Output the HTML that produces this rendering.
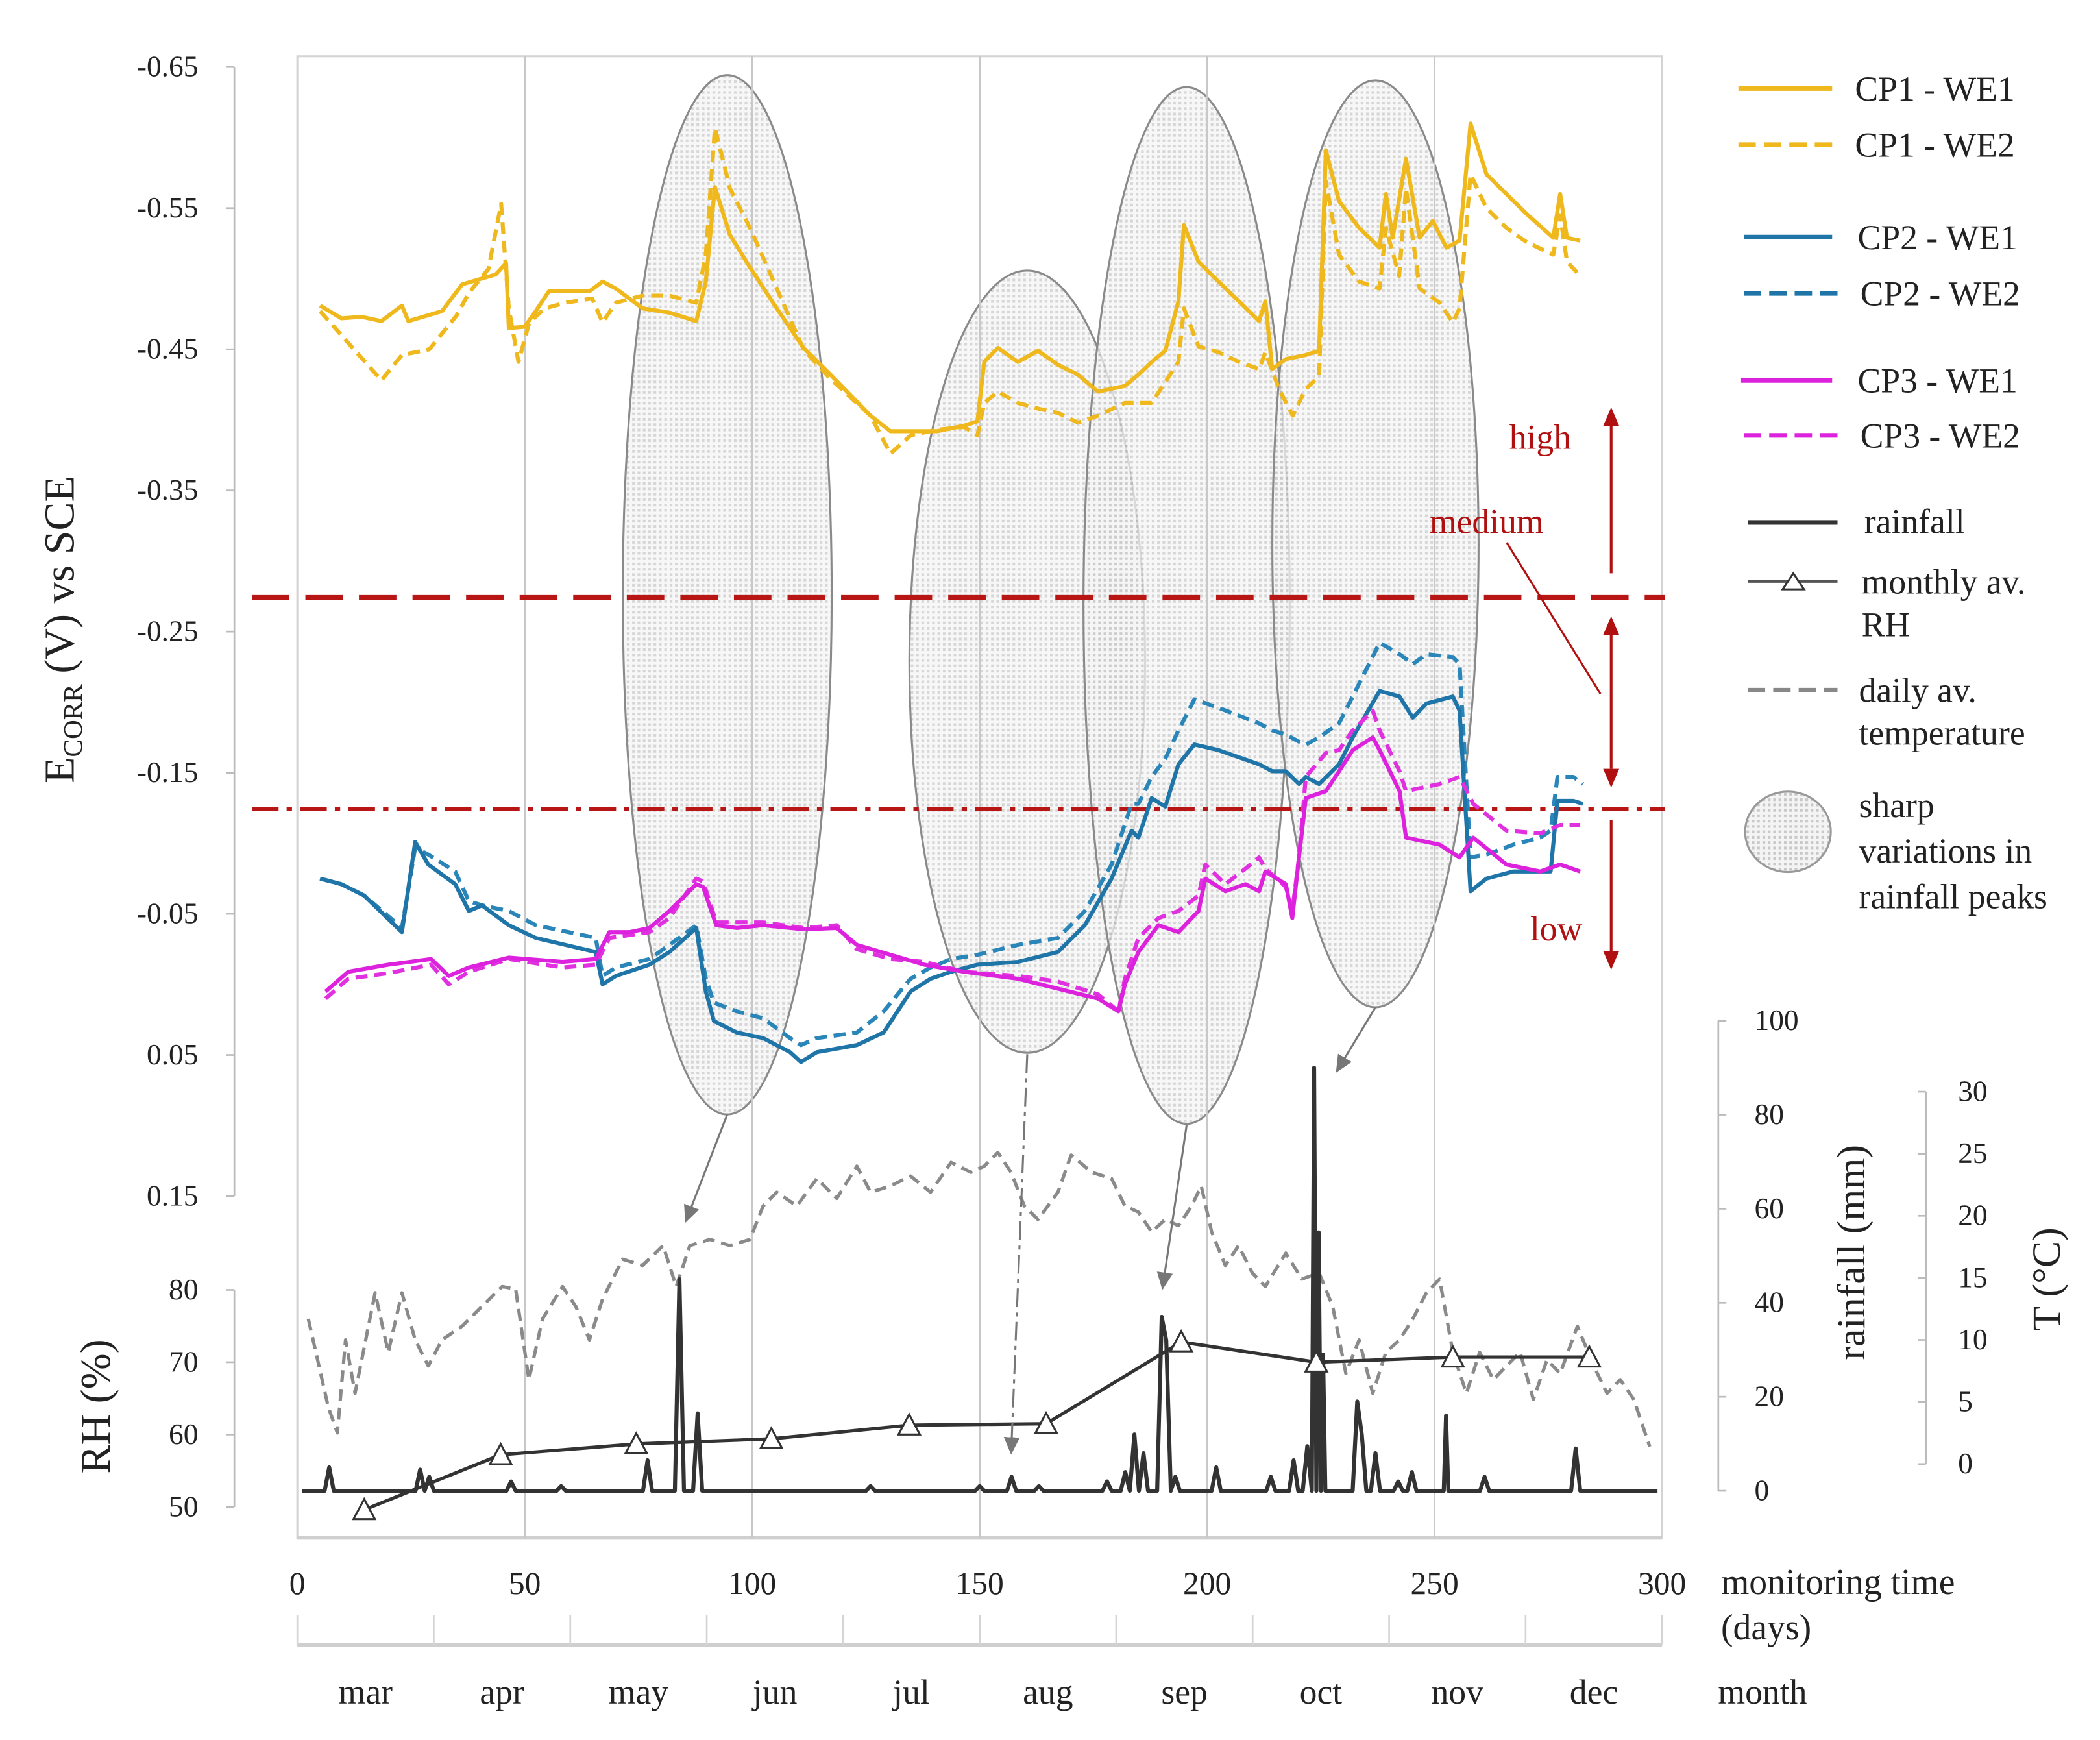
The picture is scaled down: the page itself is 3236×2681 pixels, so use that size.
<!DOCTYPE html>
<html><head><meta charset="utf-8">
<style>
html,body{margin:0;padding:0;background:#fff;}
svg{display:block;font-family:"Liberation Serif",serif;}
</style></head>
<body>
<svg id="chart" width="3236" height="2681" viewBox="0 0 1568 1299" xmlns="http://www.w3.org/2000/svg">
<defs>
<pattern id="dots" width="4" height="4" patternUnits="userSpaceOnUse">
<rect width="4" height="4" fill="#f4f4f4"/>
<rect x="0" y="0" width="2" height="2" fill="#c8c8c8"/>
</pattern>
<marker id="ahRed" markerWidth="8" markerHeight="8" refX="4" refY="4" orient="auto" markerUnits="userSpaceOnUse"><path d="M0,0 L8,4 L0,8 z" fill="#b01010"/></marker>
<marker id="ahGray" markerWidth="14" markerHeight="14" refX="12" refY="7" orient="auto" markerUnits="userSpaceOnUse"><path d="M0,1 L13,7 L0,13 z" fill="#777"/></marker>
</defs>
<g id="frame">
<rect x="222" y="42" width="1019" height="1106" fill="none" stroke="#d4d4d4" stroke-width="1.5"/>
<line x1="222" y1="1148" x2="1241" y2="1148" stroke="#cfcfcf" stroke-width="3"/>
</g>
<g id="ellipses" fill-opacity="0.75">
<ellipse cx="543" cy="444" rx="78" ry="388" fill="url(#dots)" stroke="#8a8a8a" stroke-width="1.5"/>
<ellipse cx="767" cy="494" rx="88" ry="292" fill="url(#dots)" stroke="#8a8a8a" stroke-width="1.5"/>
<ellipse cx="886" cy="452" rx="77" ry="387" fill="url(#dots)" stroke="#8a8a8a" stroke-width="1.5"/>
<ellipse cx="1027" cy="406" rx="77" ry="346" fill="url(#dots)" stroke="#8a8a8a" stroke-width="1.5"/>
</g>
<g id="grid"></g>
<g id="thresholds">
<line x1="188" y1="446" x2="1243" y2="446" stroke="#b81515" stroke-width="3.5" stroke-dasharray="28,12"/>
<line x1="188" y1="604" x2="1243" y2="604" stroke="#b81515" stroke-width="3" stroke-dasharray="20,6,4,6"/>
<line x1="1203" y1="318" x2="1203" y2="428" stroke="#b01010" stroke-width="2"/>
<path d="M1197,318 L1203,304 L1209,318 z" fill="#b01010"/>
<line x1="1203" y1="474" x2="1203" y2="574" stroke="#b01010" stroke-width="2"/>
<path d="M1197,474 L1203,460 L1209,474 z M1197,574 L1203,588 L1209,574 z" fill="#b01010"/>
<line x1="1203" y1="612" x2="1203" y2="710" stroke="#b01010" stroke-width="2"/>
<path d="M1197,710 L1203,724 L1209,710 z" fill="#b01010"/>
<line x1="1125" y1="405" x2="1195" y2="518" stroke="#b01010" stroke-width="1.5"/>
<text x="1150" y="335" font-size="26" fill="#b01010" text-anchor="middle">high</text>
<text x="1110" y="398" font-size="26" fill="#b01010" text-anchor="middle">medium</text>
<text x="1162" y="702" font-size="26" fill="#b01010" text-anchor="middle">low</text>
</g>
<g id="series"></g>
<g id="arrows">
<line x1="543" y1="832" x2="512" y2="912" stroke="#777" stroke-width="1.5" marker-end="url(#ahGray)"/>
<line x1="767" y1="787" x2="755" y2="1085" stroke="#777" stroke-width="1.5" stroke-dasharray="14,4,3,4" marker-end="url(#ahGray)"/>
<line x1="886" y1="840" x2="868" y2="962" stroke="#777" stroke-width="1.5" marker-end="url(#ahGray)"/>
<line x1="1027" y1="752" x2="998" y2="800" stroke="#777" stroke-width="1.5" marker-end="url(#ahGray)"/>
</g>
<g id="axes" font-size="22" fill="#222"></g>
<g id="axis-titles" fill="#222">
<text transform="translate(55,470) rotate(-90)" font-size="32" text-anchor="middle">E<tspan font-size="20" dy="6">CORR</tspan><tspan dy="-6"> (V) vs SCE</tspan></text>
<text transform="translate(82,1050) rotate(-90)" font-size="32" text-anchor="middle">RH (%)</text>
<text transform="translate(1392,935) rotate(-90)" font-size="30" text-anchor="middle">rainfall (mm)</text>
<text transform="translate(1538,955) rotate(-90)" font-size="30" text-anchor="middle">T (°C)</text>
<text x="1285" y="1190" font-size="27">monitoring time</text>
<text x="1285" y="1224" font-size="27">(days)</text>
<text x="1316" y="1272" font-size="26" text-anchor="middle">month</text>
</g>
<g id="legend" font-size="26" fill="#222">
<g><line x1="1298" y1="66" x2="1368" y2="66" stroke="#efb81c" stroke-width="3.5"/><text x="1385" y="75">CP1 - WE1</text></g>
<g><line x1="1298" y1="108" x2="1368" y2="108" stroke="#efb81c" stroke-width="3.5" stroke-dasharray="13,6"/><text x="1385" y="117">CP1 - WE2</text></g>
<g><line x1="1302" y1="177" x2="1368" y2="177" stroke="#1f74a8" stroke-width="3.5"/><text x="1387" y="186">CP2 - WE1</text></g>
<g><line x1="1302" y1="219" x2="1372" y2="219" stroke="#1f74a8" stroke-width="3.5" stroke-dasharray="13,6"/><text x="1389" y="228">CP2 - WE2</text></g>
<g><line x1="1300" y1="284" x2="1368" y2="284" stroke="#dd22dd" stroke-width="3.5"/><text x="1387" y="293">CP3 - WE1</text></g>
<g><line x1="1302" y1="325" x2="1372" y2="325" stroke="#dd22dd" stroke-width="3.5" stroke-dasharray="13,6"/><text x="1389" y="334">CP3 - WE2</text></g>
<g><line x1="1305" y1="390" x2="1372" y2="390" stroke="#333" stroke-width="3.5"/><text x="1392" y="398">rainfall</text></g>
<g><line x1="1305" y1="434" x2="1372" y2="434" stroke="#555" stroke-width="2"/><path d="M1331,440 L1339,428 L1347,440 z" fill="#fff" stroke="#333" stroke-width="1.5"/><text x="1390" y="443">monthly av.</text><text x="1390" y="475">RH</text></g>
<g><line x1="1305" y1="515" x2="1372" y2="515" stroke="#888" stroke-width="3" stroke-dasharray="13,6"/><text x="1388" y="524">daily av.</text><text x="1388" y="556">temperature</text></g>
<g><ellipse cx="1335" cy="621" rx="32" ry="30" fill="url(#dots)" stroke="#999" stroke-width="1.5"/><text x="1388" y="610">sharp</text><text x="1388" y="644">variations in</text><text x="1388" y="678">rainfall peaks</text></g>
</g>
</svg>
<script>
// ===== data =====
const xTickLabels = [0,50,100,150,200,250,300];
const eTickLabels = ["-0.65","-0.55","-0.45","-0.35","-0.25","-0.15","-0.05","0.05","0.15"];
const eTickValues = [-0.65,-0.55,-0.45,-0.35,-0.25,-0.15,-0.05,0.05,0.15];
const rhTickValues = [80,70,60,50];
const rainTickValues = [100,80,60,40,20,0];
const tempTickValues = [30,25,20,15,10,5,0];
const months = ["mar","apr","may","jun","jul","aug","sep","oct","nov","dec"];

const cp1we1Days = [5,9.7,14.1,18.5,23,24.4,31.8,36.2,43.6,45.9,46.5,50,52.4,55.3,64.2,67.1,70,75.9,81.8,87.7,89.8,91.8,95.1,99.5,105.4,111.3,117.2,126,130.4,140.7,146.6,149.5,151,154,158.4,162.8,167.2,171.6,176,181.9,184.9,187.8,190.8,193.7,194.9,198.1,202.5,207,211.4,212.8,214.3,217.3,221.7,224.6,226.1,229,233.4,237.9,239.3,240.8,243.7,246.7,249.6,252.6,255.5,257.9,261.4,265.8,270.2,276.1,277.6,279.1,282];
const cp1we1Vals = [-0.481,-0.472,-0.473,-0.470,-0.481,-0.470,-0.477,-0.496,-0.503,-0.511,-0.465,-0.466,-0.477,-0.491,-0.491,-0.498,-0.493,-0.479,-0.476,-0.470,-0.498,-0.565,-0.531,-0.508,-0.479,-0.451,-0.432,-0.403,-0.392,-0.392,-0.396,-0.399,-0.441,-0.451,-0.441,-0.449,-0.439,-0.432,-0.420,-0.424,-0.432,-0.441,-0.449,-0.484,-0.538,-0.512,-0.498,-0.484,-0.470,-0.484,-0.436,-0.443,-0.446,-0.449,-0.591,-0.555,-0.536,-0.522,-0.560,-0.529,-0.585,-0.529,-0.541,-0.522,-0.527,-0.610,-0.574,-0.560,-0.546,-0.529,-0.560,-0.529,-0.527];

const cp1we2Days = [5,9.7,18.5,23,29,35,37.7,42,44.8,46.5,48.6,51,54.4,58.9,64.8,67.1,70,75.9,81.8,87.7,89.8,91.8,95.1,99.5,105.4,111.3,117.2,126,130.4,134.8,140.7,146.6,149.5,151,154,158.4,162.8,167.2,171.6,176,181.9,187.8,193.7,194.9,198.1,202.5,207,211.4,212.8,215.8,218.8,221.7,224.6,226.1,229,233.4,237.9,239.3,242.2,243.7,246.7,251.1,254,255.5,257.9,261.4,265.8,270.2,276.1,277.6,279.1,282];
const cp1we2Vals = [-0.477,-0.460,-0.428,-0.446,-0.450,-0.474,-0.490,-0.507,-0.553,-0.479,-0.441,-0.469,-0.479,-0.483,-0.486,-0.469,-0.483,-0.488,-0.488,-0.483,-0.517,-0.607,-0.564,-0.536,-0.493,-0.450,-0.429,-0.403,-0.376,-0.389,-0.393,-0.395,-0.389,-0.412,-0.420,-0.412,-0.408,-0.405,-0.398,-0.403,-0.412,-0.412,-0.441,-0.479,-0.452,-0.448,-0.441,-0.436,-0.448,-0.422,-0.403,-0.422,-0.431,-0.569,-0.517,-0.498,-0.493,-0.536,-0.502,-0.564,-0.493,-0.483,-0.469,-0.479,-0.574,-0.550,-0.536,-0.526,-0.517,-0.545,-0.512,-0.502];

const cp2Days = [5,9.7,14.7,23,25.9,28.8,34.7,37.7,40.6,46.5,52.4,65.6,67.1,70,77.4,81.8,87.7,89.8,91.6,96.6,102.4,108.3,110.7,114.2,123,128.9,134.8,139.2,143.7,149.5,158.4,167.2,173.1,179,183.4,184.9,187.8,190.8,193.7,197.2,202.5,211.4,214.3,217.3,220.2,221.7,224.6,229,232,237.9,242.3,245.2,248.2,254,255.5,257.9,261.4,267.3,273.2,275.5,277,280.5,282.6];
const cp2we1Vals = [-0.075,-0.071,-0.063,-0.037,-0.101,-0.085,-0.071,-0.052,-0.056,-0.042,-0.033,-0.023,0.000,-0.006,-0.014,-0.023,-0.040,0.005,0.026,0.034,0.038,0.048,0.055,0.048,0.043,0.034,0.005,-0.004,-0.009,-0.014,-0.016,-0.023,-0.042,-0.075,-0.109,-0.104,-0.132,-0.126,-0.156,-0.170,-0.166,-0.156,-0.151,-0.151,-0.142,-0.147,-0.142,-0.156,-0.175,-0.208,-0.204,-0.189,-0.199,-0.204,-0.194,-0.066,-0.075,-0.080,-0.080,-0.080,-0.130,-0.130,-0.128];
const cp2we2Vals = [-0.075,-0.071,-0.063,-0.040,-0.097,-0.092,-0.080,-0.059,-0.056,-0.052,-0.042,-0.033,-0.006,-0.012,-0.018,-0.028,-0.042,-0.004,0.013,0.019,0.024,0.038,0.043,0.038,0.034,0.019,-0.004,-0.012,-0.018,-0.021,-0.028,-0.033,-0.052,-0.085,-0.128,-0.128,-0.147,-0.160,-0.180,-0.202,-0.196,-0.185,-0.180,-0.177,-0.172,-0.170,-0.175,-0.185,-0.204,-0.242,-0.234,-0.227,-0.234,-0.232,-0.227,-0.090,-0.092,-0.099,-0.104,-0.109,-0.147,-0.147,-0.142];

const cp3Days = [6.2,11.2,20,29.4,33.3,37.7,46.5,58.3,65.6,68.6,73,77.4,81.8,87.7,89.2,92.1,96.6,102.4,111.3,118.6,123,130.4,137.8,146.6,158.4,167.2,176,180.5,181.9,184.9,189.3,193.7,198.1,199.6,204,208.4,211.4,212.8,217.3,218.7,220.2,221.7,226.1,229,232,236.4,237.9,242.3,243.7,251.1,255.5,258.5,265.8,273.2,277.6,282];
const cp3we1Vals = [0.005,-0.009,-0.014,-0.018,-0.006,-0.012,-0.019,-0.016,-0.018,-0.037,-0.037,-0.040,-0.052,-0.071,-0.069,-0.042,-0.040,-0.042,-0.039,-0.040,-0.028,-0.021,-0.014,-0.009,-0.004,0.003,0.010,0.019,0.000,-0.023,-0.042,-0.037,-0.052,-0.075,-0.066,-0.071,-0.066,-0.080,-0.071,-0.047,-0.090,-0.132,-0.137,-0.151,-0.166,-0.175,-0.166,-0.137,-0.104,-0.099,-0.090,-0.104,-0.085,-0.080,-0.085,-0.080];
const cp3we2Vals = [0.010,-0.004,-0.008,-0.014,0.000,-0.009,-0.018,-0.012,-0.014,-0.033,-0.035,-0.037,-0.047,-0.075,-0.073,-0.044,-0.044,-0.044,-0.040,-0.042,-0.025,-0.018,-0.016,-0.009,-0.006,-0.002,0.007,0.019,-0.004,-0.033,-0.047,-0.052,-0.063,-0.085,-0.071,-0.082,-0.090,-0.082,-0.069,-0.052,-0.090,-0.147,-0.164,-0.166,-0.180,-0.194,-0.180,-0.151,-0.137,-0.142,-0.147,-0.128,-0.109,-0.107,-0.113,-0.113];

const rainDays = [7,27,29,47,58,77,84,88,126,150,157,163,178,182,184,186,190,191,193,202,214,219,222,223.5,224.5,225.5,233,234,237,242,245,252.5,261,281];
const rainMm = [5,4.5,3,2,1,6.5,45,16.5,1,1,3,1,2,4,12,8,37,32,3,5,3,6.5,9.5,90,55,29,19,12,8,2,4,16,3,9];

const tempDays = [2.4,6.8,8.8,10.6,12.7,17.1,20,23,25.9,28.8,31.8,36.2,40.6,45,48,50.9,53.9,58.3,61.2,64.2,67.1,71.5,75.9,80.4,83.3,86.3,90.7,95.1,99.5,102.4,105.4,109.8,114.2,118.6,123,126,130.4,134.8,139.2,143.7,148.1,151,154,156.9,159.8,162.8,167.2,170.1,174.6,179,181.9,184.9,187.8,190.8,193.7,196.6,198.7,201,204,206.9,209.9,212.8,217.3,220.8,224.6,227.6,230.5,233.4,236.4,239.3,242.3,245.2,248.2,251.1,254,257,259.9,262.9,265.8,268.8,271.7,274.7,277.6,281.4,285,287.9,290.8,293.8,297.3];
const tempVals = [11.7,4.6,2.5,10,5.7,13.8,9,13.8,10,7.9,10,11.1,12.7,14.3,14.1,6.8,11.7,14.3,12.7,10,13.3,16.5,16,17.6,14.3,17.6,18.1,17.6,18.1,20.8,21.9,20.8,23,21.4,24,21.9,22.4,23.2,21.9,24.3,23.5,24,25.1,23.5,20.8,19.7,21.9,24.9,23.5,23,20.8,20.3,18.7,19.7,19.2,20.8,22.4,18.7,16,17.6,15.4,14.3,17,14.9,15.4,12.7,7.3,10,5.7,9,10,11.7,13.8,14.9,9,5.7,9,6.8,7.9,9,5.2,8.4,7.3,11.1,7.9,5.7,6.8,5.2,1.4];

const rhDays = [14.7,44.7,74.5,104.2,134.5,164.6,194.3,224,254,284];
const rhVals = [49.6,57.2,58.7,59.4,61.3,61.5,72.8,70,70.7,70.7];

// ===== scales =====
const X0=222, X1=1241;
const xs = d => X0 + d*(X1-X0)/300;
const ys = v => 50 + (v+0.65)*(893-50)/0.8;
const yRH = v => 1125 - (v-50)*(1125-963)/30;
const yRain = v => 1113 - v*(1113-762)/100;
const yT = v => 1093 - v*(1093-815)/30;

const NS="http://www.w3.org/2000/svg";
function mk(tag, attrs, parent){const e=document.createElementNS(NS,tag);for(const k in attrs)e.setAttribute(k,attrs[k]);parent.appendChild(e);return e;}
const svg=document.getElementById('chart');
const grid=document.getElementById('grid');
const axes=document.getElementById('axes');
const series=document.getElementById('series');

for(const t of xTickLabels.slice(1,-1)){
  const l=mk('line',{x1:xs(t),y1:42,x2:xs(t),y2:1148,stroke:'#c8c8c8','stroke-width':1.3},grid);
  
  
}
let a=mk('line',{x1:175,y1:ys(-0.65),x2:175,y2:ys(0.15),stroke:'#bbb','stroke-width':1.3},axes);


eTickValues.forEach((v,i)=>{
  mk('line',{x1:169,y1:ys(v),x2:175,y2:ys(v),stroke:'#bbb','stroke-width':1.3},axes);
  const t=mk('text',{x:148,y:ys(v)+7,'text-anchor':'end'},axes);t.textContent=eTickLabels[i];
  
  
});
a=mk('line',{x1:175,y1:yRH(80),x2:175,y2:yRH(50),stroke:'#bbb','stroke-width':1.3},axes);


rhTickValues.forEach(v=>{
  mk('line',{x1:169,y1:yRH(v),x2:175,y2:yRH(v),stroke:'#bbb','stroke-width':1.3},axes);
  const t=mk('text',{x:148,y:yRH(v)+7,'text-anchor':'end'},axes);t.textContent=v;
  
  
});
a=mk('line',{x1:1283,y1:yRain(100),x2:1283,y2:yRain(0),stroke:'#bbb','stroke-width':1.3},axes);


rainTickValues.forEach(v=>{
  mk('line',{x1:1283,y1:yRain(v),x2:1289,y2:yRain(v),stroke:'#bbb','stroke-width':1.3},axes);
  const t=mk('text',{x:1310,y:yRain(v)+7},axes);t.textContent=v;
  
  
});
a=mk('line',{x1:1438,y1:yT(30),x2:1438,y2:yT(0),stroke:'#bbb','stroke-width':1.3},axes);


tempTickValues.forEach(v=>{
  mk('line',{x1:1432,y1:yT(v),x2:1438,y2:yT(v),stroke:'#bbb','stroke-width':1.3},axes);
  const t=mk('text',{x:1462,y:yT(v)+7},axes);t.textContent=v;
  
  
});
xTickLabels.forEach(v=>{
  const t=mk('text',{x:xs(v),y:1190,'text-anchor':'middle','font-size':24},axes);t.textContent=v;
  
  
});
a=mk('line',{x1:X0,y1:1228,x2:X1,y2:1228,stroke:'#cfcfcf','stroke-width':2.5},axes);


const mw=(X1-X0)/months.length;
for(let i=0;i<=months.length;i++){mk('line',{x1:X0+i*mw,y1:1206,x2:X0+i*mw,y2:1228,stroke:'#d5d5d5','stroke-width':1.3},axes);}
months.forEach((m,i)=>{
  const t=mk('text',{x:X0+(i+0.5)*mw,y:1272,'text-anchor':'middle','font-size':26},axes);t.textContent=m;
  
  
});

function poly(days, vals, yf){return days.map((d,i)=>xs(d).toFixed(1)+','+yf(vals[i]).toFixed(1)).join(' ');}
function line(name, days, vals, yf, color, dash, w){
  const p=mk('polyline',{points:poly(days,vals,yf),fill:'none',stroke:color,'stroke-width':w||3,'stroke-linejoin':'round'},series);
  if(dash) p.setAttribute('stroke-dasharray',dash);
  
  
  return p;
}
line('temperature-line',tempDays,tempVals,yT,'#8a8a8a','9,5',2.5);
const merged=[];
for(let d=1;d<=299;d++){const k=rainDays.findIndex(x=>Math.abs(x-d)<0.5);merged.push([d,k>=0?rainMm[k]:0]);}
rainDays.forEach((d,i)=>{if(d%1!==0)merged.push([d,rainMm[i]]);});
merged.sort((p,q)=>p[0]-q[0]);
line('rainfall-line',merged.map(p=>p[0]),merged.map(p=>p[1]),yRain,'#333',null,3);
line('rh-line',rhDays,rhVals,yRH,'#333',null,2.5);
rhDays.forEach((d,i)=>{
  const x=xs(d),y=yRH(rhVals[i]);
  const m=mk('path',{d:`M${x-8},${y+7} L${x},${y-8} L${x+8},${y+7} z`,fill:'#fff',stroke:'#333','stroke-width':1.5},series);
  
  
});
line('cp1-we2-line',cp1we2Days,cp1we2Vals,ys,'#efb81c','9,5',3);
line('cp1-we1-line',cp1we1Days,cp1we1Vals,ys,'#efb81c',null,3);
line('cp2-we2-line',cp2Days,cp2we2Vals,ys,'#2a85b8','9,5',3);
line('cp2-we1-line',cp2Days,cp2we1Vals,ys,'#1f74a8',null,3);
line('cp3-we2-line',cp3Days,cp3we2Vals,ys,'#e030e0','9,5',3);
line('cp3-we1-line',cp3Days,cp3we1Vals,ys,'#dd22dd',null,3);
svg.appendChild(document.getElementById('arrows'));
</script>
</body></html>
